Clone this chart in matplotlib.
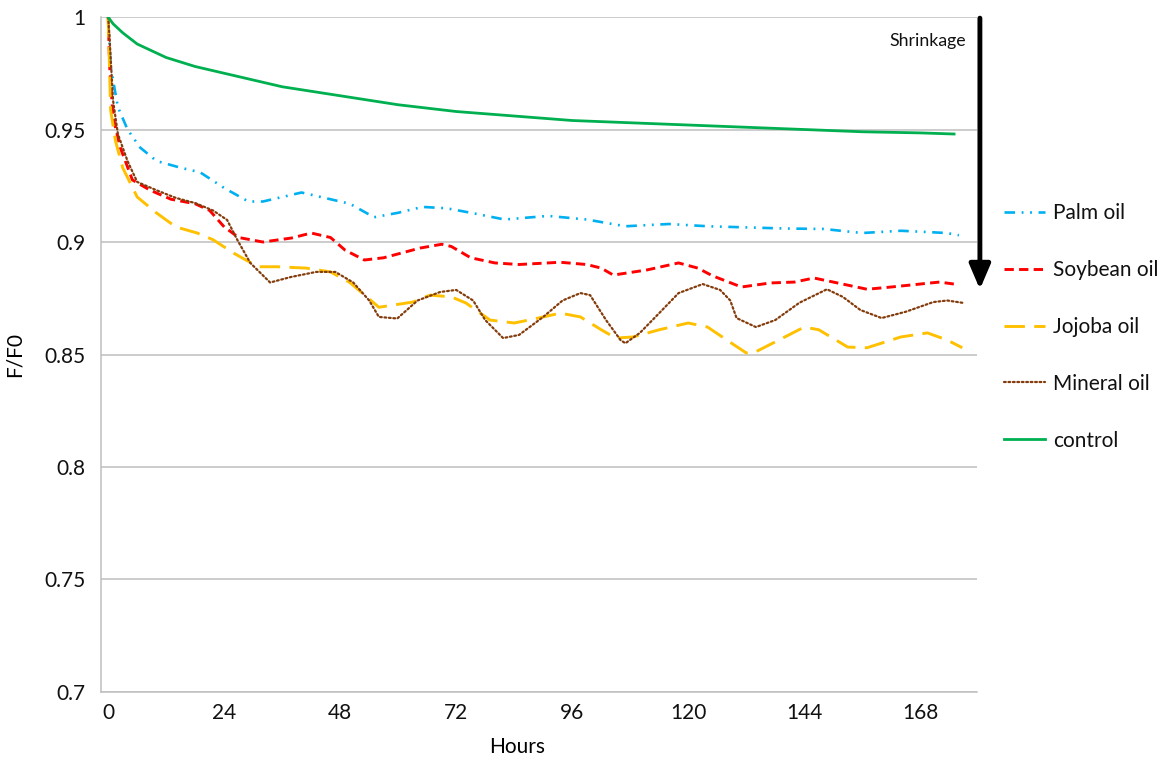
"""F/F0 over time for skin samples treated with different oils."""

import numpy as np
import matplotlib
matplotlib.use("Agg")
import matplotlib.pyplot as plt

plt.rcParams['font.family'] = ['Lato', 'DejaVu Sans']
plt.rcParams['text.color'] = '#111111'

# Control (untreated) curve
hours_control = [0, 1, 3, 6, 9, 12, 18, 24, 30, 36, 42, 48, 54, 60, 72, 84, 96,
                 108, 120, 132, 144, 156, 168, 175]
ff0_control = [1.0, 0.997, 0.993, 0.988, 0.985, 0.982, 0.978, 0.975, 0.972, 0.969,
               0.967, 0.965, 0.963, 0.961, 0.958, 0.956, 0.954, 0.953, 0.952, 0.951,
               0.950, 0.949, 0.9485, 0.948]

hours_palm = [0, 0.5, 2, 4, 6.6, 10, 15, 19, 24, 29, 32, 40, 44, 50, 55, 60, 65, 70,
              75, 82, 91, 99, 107, 116, 124, 140, 148, 156, 164, 173.5, 176]
ff0_palm = [1.0, 0.978, 0.960, 0.950, 0.942, 0.936, 0.933, 0.931, 0.924, 0.918, 0.918,
            0.922, 0.920, 0.917, 0.911, 0.913, 0.9156, 0.915, 0.913, 0.910, 0.9116,
            0.910, 0.907, 0.908, 0.907, 0.906, 0.9058, 0.904, 0.905, 0.904, 0.903]

hours_soy = [0, 0.3, 1, 2.5, 5, 8.7, 13, 18, 21, 24, 27, 32, 38, 42, 46, 49, 53, 57,
             64.5, 69, 71, 75, 80, 85, 93.5, 99, 102, 104.5, 111.5, 118, 122, 125,
             131, 137, 142, 146, 150, 157, 162, 172, 176]
ff0_soy = [1.0, 0.978, 0.9556, 0.942, 0.9276, 0.923, 0.919, 0.917, 0.914, 0.9067,
           0.902, 0.900, 0.9018, 0.904, 0.902, 0.8964, 0.892, 0.893, 0.8973, 0.899,
           0.898, 0.893, 0.8907, 0.890, 0.891, 0.890, 0.8884, 0.8853, 0.8876, 0.8907,
           0.8884, 0.885, 0.880, 0.8818, 0.8822, 0.884, 0.8822, 0.879, 0.880, 0.8822,
           0.881]

hours_jojoba = [0, 0.5, 1.5, 3, 6, 10, 14, 18.4, 21.7, 26, 31, 35, 41, 46, 50, 53.5,
                56, 63, 66.6, 71, 74, 79, 84, 89, 93.5, 97.7, 102, 105, 108.6, 114,
                120, 124, 128, 132, 133.5, 138, 144, 147, 153, 157, 164, 169.5, 173.6,
                176.7]
ff0_jojoba = [1.0, 0.9587, 0.945, 0.933, 0.920, 0.9129, 0.9067, 0.904, 0.901, 0.895,
              0.889, 0.889, 0.8884, 0.8867, 0.882, 0.8756, 0.871, 0.8733, 0.8764,
              0.8756, 0.8729, 0.8653, 0.864, 0.8662, 0.8684, 0.8667, 0.861, 0.8573,
              0.8578, 0.861, 0.864, 0.8622, 0.8564, 0.8507, 0.8507, 0.8556, 0.8622,
              0.861, 0.8533, 0.853, 0.8578, 0.8596, 0.8564, 0.853]

hours_mineral = [0, 0.3, 1, 2, 4, 6, 10, 14, 18, 21.7, 24.6, 26.7, 29.4, 33.5, 37.7,
                 43, 47, 50.7, 54, 56, 59.8, 64, 68.7, 72, 75.5, 78, 81.7, 85, 90, 94,
                 97.7, 99.7, 103, 106, 107, 110, 114, 118, 123, 126.6, 128.7, 130, 134,
                 138, 143, 148.7, 152, 155.6, 160, 165, 170.7, 173.6, 176.7]
ff0_mineral = [1.0, 0.99, 0.963, 0.948, 0.936, 0.9267, 0.923, 0.9196, 0.9173, 0.914,
               0.9098, 0.901, 0.8907, 0.882, 0.8844, 0.8867, 0.8867, 0.882, 0.874,
               0.8667, 0.866, 0.874, 0.8778, 0.8787, 0.874, 0.8653, 0.8573, 0.8587,
               0.8667, 0.874, 0.8773, 0.8764, 0.8653, 0.8564, 0.855, 0.8596, 0.8684,
               0.8773, 0.8813, 0.8787, 0.874, 0.8662, 0.8622, 0.8653, 0.873, 0.879,
               0.8756, 0.8698, 0.8662, 0.869, 0.8733, 0.874, 0.873]

x_ticks = [0, 24, 48, 72, 96, 120, 144, 168]
y_ticks = [0.7, 0.75, 0.8, 0.85, 0.9, 0.95, 1.0]
y_tick_labels = ['0.7', '0.75', '0.8', '0.85', '0.9', '0.95', '1']

fig = plt.figure(figsize=(11.63, 7.60), dpi=100)
ax = fig.add_axes([0.0868, 0.0895, 0.7535, 0.8881])

ax.plot(hours_palm, ff0_palm, color='#00B0F0', lw=1.9,
        linestyle=(0, (4, 2.5, 0.7, 2.5, 0.7, 2.5)), label='Palm oil')
ax.plot(hours_soy, ff0_soy, color='#FF0000', lw=2.1,
        linestyle=(0, (3.2, 1.8)), label='Soybean oil')
ax.plot(hours_jojoba, ff0_jojoba, color='#FFC000', lw=2.1,
        linestyle=(0, (7, 3.2)), label='Jojoba oil')
ax.plot(hours_mineral, ff0_mineral, color='#843C0C', lw=1.6,
        linestyle=(0, (0.8, 1.2)), dash_capstyle='round', label='Mineral oil')
ax.plot(hours_control, ff0_control, color='#00B050', lw=2.0, label='control')

ax.set_xlim(-1.5, 179.8)
ax.set_ylim(0.7, 1.0)
ax.set_xticks(x_ticks)
ax.set_yticks(y_ticks)
ax.set_yticklabels(y_tick_labels)
ax.tick_params(length=0, labelsize=15, colors='#111111')
ax.tick_params(axis='y', pad=11)
ax.tick_params(axis='x', pad=8)

ax.grid(axis='y', color='#BFBFBF', lw=1.1)
ax.set_axisbelow(True)
for side in ['top', 'right']:
    ax.spines[side].set_visible(False)
for side in ['left', 'bottom']:
    ax.spines[side].set_color('#BFBFBF')
    ax.spines[side].set_linewidth(1.1)

ax.set_xlabel('Hours', fontsize=15)
ax.xaxis.set_label_coords(0.475, -0.066)
ax.set_ylabel('F/F0', fontsize=15)
ax.yaxis.set_label_coords(-0.087, 0.5)

# shrinkage arrow on the right edge
ax.annotate('', xy=(1.003, 0.879), xytext=(1.003, 0.9995),
            xycoords=('axes fraction', 'data'), textcoords=('axes fraction', 'data'),
            arrowprops=dict(arrowstyle='-|>,head_width=0.32,head_length=0.75',
                            color='black', lw=3.5, mutation_scale=20,
                            shrinkA=0, shrinkB=0),
            annotation_clip=False)
ax.text(177.5, 0.9895, 'Shrinkage', ha='right', va='center', fontsize=12.8)

fig.legend(loc='center left', bbox_to_anchor=(0.863, 0.570), frameon=False,
           fontsize=15, handlelength=2.0, handletextpad=0.35, labelspacing=1.77,
           borderpad=0, borderaxespad=0)

fig.savefig('out.png', dpi=100)
